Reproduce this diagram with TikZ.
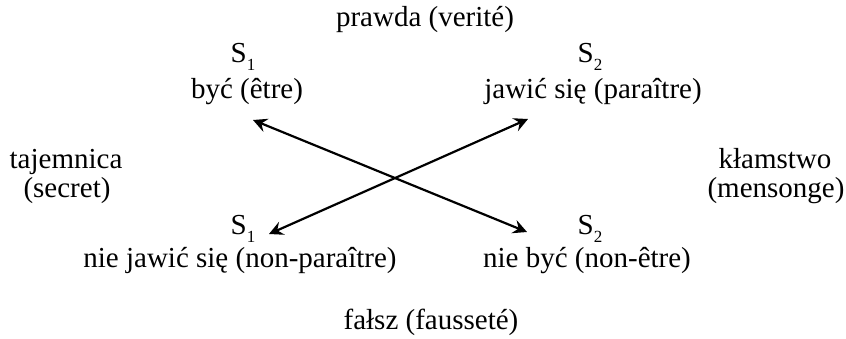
\documentclass[tikz,border=0pt]{standalone}
\usepackage{fontspec}
\setmainfont{Liberation Serif}
\usetikzlibrary{arrows.meta}
% subscript index set low, as in the printed square
\newcommand{\idx}[1]{\raisebox{-0.28em}{\fontsize{17}{17}\selectfont #1}}
\begin{document}
\begin{tikzpicture}[x=1pt,y=-1pt,
  lbl/.style={font=\fontsize{29}{32}\selectfont, anchor=base, inner sep=0pt},
  link/.style={line width=2.2pt, {Stealth[length=14pt,width=14pt,inset=5pt]}-{Stealth[length=14pt,width=14pt,inset=5pt]}}]
  \useasboundingbox (0,0) rectangle (846,338);
  % top and bottom of the square
  \node[lbl] (verite) at (425,26) {prawda (verité)};
  \node[lbl] (faux) at (431,329) {fałsz (fausseté)};
  % sides
  \node[lbl] (sec1) at (66,168) {tajemnica};
  \node[lbl] (sec2) at (67,197) {(secret)};
  \node[lbl] (men1) at (775,168) {kłamstwo};
  \node[lbl] (men2) at (776,197) {(mensonge)};
  % corners
  \node[lbl] (s1t) at (243,62) {S\idx{1}};
  \node[lbl] (etre) at (247,98) {być (être)};
  \node[lbl] (s2t) at (590,62) {S\idx{2}};
  \node[lbl] (par) at (593,98) {jawić się (paraître)};
  \node[lbl] (s1b) at (243,234) {S\idx{1}};
  \node[lbl] (npar) at (240,267) {nie jawić się (non-paraître)};
  \node[lbl] (s2b) at (590,234) {S\idx{2}};
  \node[lbl] (netre) at (587,267) {nie być (non-être)};
  % arrow end points
  \coordinate (eA) at (253,120);
  \coordinate (eB) at (527,232);
  \coordinate (eC) at (269,234);
  \coordinate (eD) at (528,119);
  \draw[link] (eA) -- (eB);
  \draw[link] (eC) -- (eD);
\end{tikzpicture}
\end{document}
